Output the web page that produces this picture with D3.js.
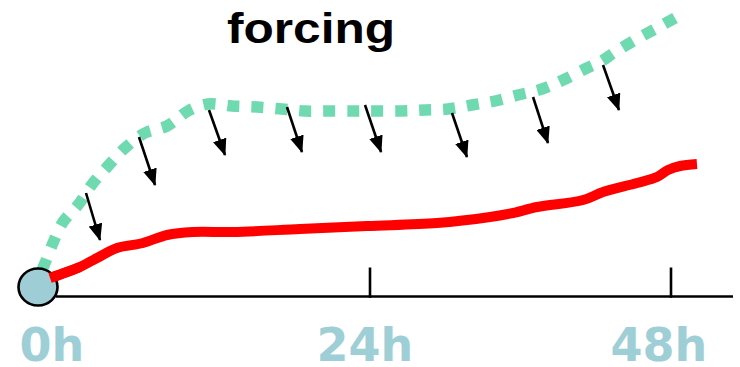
<!DOCTYPE html>
<html>
<head>
<meta charset="utf-8">
<script src="https://cdn.jsdelivr.net/npm/d3@7"></script>
<style>
  html, body { margin: 0; padding: 0; background: #ffffff; }
  svg { display: block; }
</style>
</head>
<body>
<div id="chart"></div>
<script>
// ---------- data (hours, arbitrary height units above the time axis) ----------
const forcingHours  = [0.29, 0.51, 1.08, 1.81, 2.89, 3.98, 5.06, 6.29, 7.73, 9.33, 10.84, 12.29, 14.02, 15.83, 17.64, 19.30, 20.96, 22.70, 24.0, 26.55, 28.39, 30.22, 32.13, 33.97, 35.80, 37.71, 39.39, 41.30, 42.34, 43.54, 45.13, 46.88, 48.32];
const forcingValues = [26, 33, 53, 74, 91, 113, 130, 148, 163, 170, 185, 192, 190, 189, 187, 185, 185, 185, 185, 185, 186, 187, 191, 195, 201, 207, 216, 228, 234, 244, 256, 268, 278];

const responseHours  = [0.87, 2.10, 3.04, 4.27, 5.71, 7.59, 9.33, 11.20, 14.10, 18.94, 23.78, 29.34, 33.57, 35.40, 37.32, 40.99, 42.58, 45.29, 46.88, 47.76, 48.72, 50.07];
const responseValues = [18, 24, 29, 38, 48, 53, 61, 64, 64, 67, 70, 73, 79, 83, 89, 96, 104, 113, 119, 126, 130, 132];

const arrowStartHours  = [3.47, 7.30, 12.36, 18.0, 23.64, 30.54, 37.0, 42.58];
const arrowStartValues = [103, 159, 186, 189, 191, 183, 199, 231];
const arrowEndHours    = [4.48, 8.46, 13.52, 19.08, 24.88, 31.73, 38.19, 43.85];
const arrowEndValues   = [56, 111, 141, 144, 144, 139, 153, 186];

const tickHours  = [0, 24, 48];
const tickLabels = ["0h", "24h", "48h"];
const titleText  = "forcing";

// ---------- layout ----------
const W = 740, H = 367;
const axisY = 296.5;

const svg = d3.select("#chart").append("svg")
  .attr("width", W).attr("height", H);

// schematic time axis: stretched between the start marker and the 24h / 48h ticks
const x = d3.scaleLinear().domain([0, 24, 48]).range([38, 370, 671]);
const y = d3.scaleLinear().domain([0, 296]).range([296, 0]);

// arrow marker
svg.append("defs").append("marker")
  .attr("id", "head")
  .attr("markerUnits", "userSpaceOnUse")
  .attr("markerWidth", 17).attr("markerHeight", 14)
  .attr("viewBox", "0 0 17 14")
  .attr("refX", 16).attr("refY", 7)
  .attr("orient", "auto")
  .append("path")
  .attr("d", "M0,0 L17,7 L0,14 Z")
  .attr("fill", "#000");

// axis line
svg.append("line")
  .attr("x1", 56).attr("x2", 733)
  .attr("y1", axisY).attr("y2", axisY)
  .attr("stroke", "#000").attr("stroke-width", 2.6);

// ticks (24h, 48h) pointing up
svg.selectAll("line.tick")
  .data(tickHours.filter(h => h > 0))
  .join("line")
  .attr("class", "tick")
  .attr("x1", d => x(d)).attr("x2", d => x(d))
  .attr("y1", axisY + 1.3).attr("y2", axisY - 29)
  .attr("stroke", "#000").attr("stroke-width", 2.6);

// tick labels
const labelDx = [14, -5, -12];
svg.selectAll("text.tlabel")
  .data(tickHours)
  .join("text")
  .attr("class", "tlabel")
  .attr("x", (d, i) => x(d) + labelDx[i])
  .attr("y", 361)
  .attr("text-anchor", "middle")
  .attr("font-family", "DejaVu Sans")
  .attr("font-weight", "bold")
  .attr("font-size", 46)
  .attr("fill", "#9fcfd6")
  .text((d, i) => tickLabels[i]);

// forcing (green dotted) curve
const forcing = forcingHours.map((h, i) => [h, forcingValues[i]]);
const line = d3.line().x(d => x(d[0])).y(d => y(d[1])).curve(d3.curveCatmullRom.alpha(0.5));
svg.append("path")
  .attr("d", line(forcing))
  .attr("fill", "none")
  .attr("stroke", "#6fdab0")
  .attr("stroke-width", 11.5)
  .attr("stroke-dasharray", "12 12");

// response (red) curve
const response = responseHours.map((h, i) => [h, responseValues[i]]);
svg.append("path")
  .attr("d", line(response))
  .attr("fill", "none")
  .attr("stroke", "#ff0000")
  .attr("stroke-width", 10);

// forcing arrows
svg.selectAll("line.arrow")
  .data(arrowStartHours)
  .join("line")
  .attr("class", "arrow")
  .attr("x1", (d, i) => x(d))
  .attr("y1", (d, i) => y(arrowStartValues[i]))
  .attr("x2", (d, i) => x(arrowEndHours[i]))
  .attr("y2", (d, i) => y(arrowEndValues[i]))
  .attr("stroke", "#000")
  .attr("stroke-width", 2.6)
  .attr("marker-end", "url(#head)");

// start marker (initial state)
svg.append("ellipse")
  .attr("cx", x(0)).attr("cy", 287)
  .attr("rx", 19.5).attr("ry", 18.5)
  .attr("fill", "#9ecdd5")
  .attr("stroke", "#000").attr("stroke-width", 2.6);

// redraw red start over circle edge (as in reference the red sits on top)
svg.append("path")
  .attr("d", line(response.slice(0, 3)))
  .attr("fill", "none")
  .attr("stroke", "#ff0000")
  .attr("stroke-width", 10);

// title
svg.append("text")
  .attr("x", 311).attr("y", 43)
  .attr("text-anchor", "middle")
  .attr("font-family", "Liberation Sans, Arial, sans-serif")
  .attr("font-weight", "bold")
  .attr("font-size", 42)
  .attr("textLength", 168)
  .attr("lengthAdjust", "spacingAndGlyphs")
  .attr("fill", "#000")
  .text(titleText);
</script>
</body>
</html>
